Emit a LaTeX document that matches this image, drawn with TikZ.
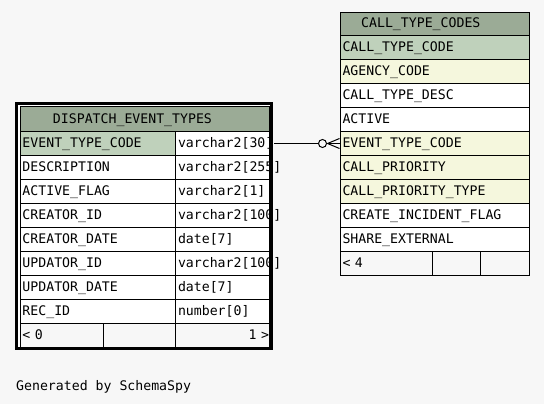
\documentclass[tikz,border=0pt]{standalone}
\usepackage{fontspec}
\newfontfamily\tabfontfam{DejaVu Sans Mono}
\newcommand{\tfnt}{\tabfontfam\fontsize{13.2pt}{15pt}\selectfont}
\definecolor{bg}{RGB}{247,247,247}
\definecolor{hdr}{RGB}{155,171,150}
\definecolor{pk}{RGB}{191,209,187}
\definecolor{idx}{RGB}{245,247,221}
\tikzset{
  cell/.style={draw=black, line width=1pt, anchor=north west, minimum height=24pt,
    inner xsep=2.5pt, inner ysep=0pt, text height=9pt, text depth=1pt,
    font=\tfnt, align=left, fill=white},
  hcell/.style={cell, fill=hdr},
  fcell/.style={cell, fill=bg},
  lname/.style={cell, text width=150.5pt},
  ltype/.style={cell, text width=88.5pt},
  rname/.style={cell, text width=184pt},
  frame/.style={draw=black, line width=3pt},
  rel/.style={draw=black, line width=1pt},
  note/.style={font=\tfnt, anchor=base west, inner sep=0pt}
}
\begin{document}
\begin{tikzpicture}[x=1pt,y=-1pt]
\useasboundingbox[fill=bg] (0,0) rectangle (544,404);

% ---------- DISPATCH_EVENT_TYPES ----------
\fill[white] (16.5,103.5) rectangle (271.5,348.5);
\node[hcell, text width=244pt, minimum height=24.5pt] (deth) at (19.5,106.5) {\hspace*{30.5pt}DISPATCH\_EVENT\_TYPES};
\node[lname, fill=pk] (d1n) at (19.5,131) {\mbox{EVENT\_TYPE\_CODE}};
\node[ltype] (d1t) at (175,131) {\mbox{varchar2[30]}};
\node[lname] (d2n) at (19.5,155) {\mbox{DESCRIPTION}};
\node[ltype] (d2t) at (175,155) {\mbox{varchar2[255]}};
\node[lname] (d3n) at (19.5,179) {\mbox{ACTIVE\_FLAG}};
\node[ltype] (d3t) at (175,179) {\mbox{varchar2[1]}};
\node[lname] (d4n) at (19.5,203) {\mbox{CREATOR\_ID}};
\node[ltype] (d4t) at (175,203) {\mbox{varchar2[100]}};
\node[lname] (d5n) at (19.5,227) {\mbox{CREATOR\_DATE}};
\node[ltype] (d5t) at (175,227) {\mbox{date[7]}};
\node[lname] (d6n) at (19.5,251) {\mbox{UPDATOR\_ID}};
\node[ltype] (d6t) at (175,251) {\mbox{varchar2[100]}};
\node[lname] (d7n) at (19.5,275) {\mbox{UPDATOR\_DATE}};
\node[ltype] (d7t) at (175,275) {\mbox{date[7]}};
\node[lname] (d8n) at (19.5,299) {\mbox{REC\_ID}};
\node[ltype] (d8t) at (175,299) {\mbox{number[0]}};
\node[fcell, text width=78.5pt] (df1) at (19.5,323) {\mbox{< 0}};
\node[fcell, text width=67pt] (df2) at (103,323) {};
\node[fcell, text width=88.5pt, align=right] (df3) at (175,323) {\mbox{1 >\kern-2.5pt}};
\draw[frame] (16.5,103.5) rectangle (271.5,348.5);

% ---------- CALL_TYPE_CODES ----------
\node[hcell, text width=184pt, minimum height=23pt] (ctch) at (339.5,12) {\hspace*{18.7pt}CALL\_TYPE\_CODES};
\node[rname, fill=pk] (c1) at (339.5,35) {\mbox{CALL\_TYPE\_CODE}};
\node[rname, fill=idx] (c2) at (339.5,59) {\mbox{AGENCY\_CODE}};
\node[rname] (c3) at (339.5,83) {\mbox{CALL\_TYPE\_DESC}};
\node[rname] (c4) at (339.5,107) {\mbox{ACTIVE}};
\node[rname, fill=idx] (c5) at (339.5,131) {\mbox{EVENT\_TYPE\_CODE}};
\node[rname, fill=idx] (c6) at (339.5,155) {\mbox{CALL\_PRIORITY}};
\node[rname, fill=idx] (c7) at (339.5,179) {\mbox{CALL\_PRIORITY\_TYPE}};
\node[rname] (c8) at (339.5,203) {\mbox{CREATE\_INCIDENT\_FLAG}};
\node[rname] (c9) at (339.5,227) {\mbox{SHARE\_EXTERNAL}};
\node[fcell, text width=87.5pt] (cf1) at (339.5,251) {\mbox{< 4}};
\node[fcell, text width=42.5pt] (cf2) at (432,251) {};
\node[fcell, text width=44pt] (cf3) at (479.5,251) {};

% ---------- relationship ----------
\node[circle, draw=black, line width=1pt, fill=bg, minimum size=8pt, inner sep=0pt] (zero) at ([xshift=-17pt]c5.west) {};
\coordinate (apex) at ([xshift=-12pt]c5.west);
\draw[rel] ([xshift=4.5pt]d1t.east) -- (zero.west);
\draw[rel] (zero.east) -- (c5.west);
\draw[rel] (apex) -- ([yshift=5pt]c5.west);
\draw[rel] (apex) -- ([yshift=-5pt]c5.west);

\node[note] (gen) at (16,390) {Generated by SchemaSpy};
\end{tikzpicture}
\end{document}
